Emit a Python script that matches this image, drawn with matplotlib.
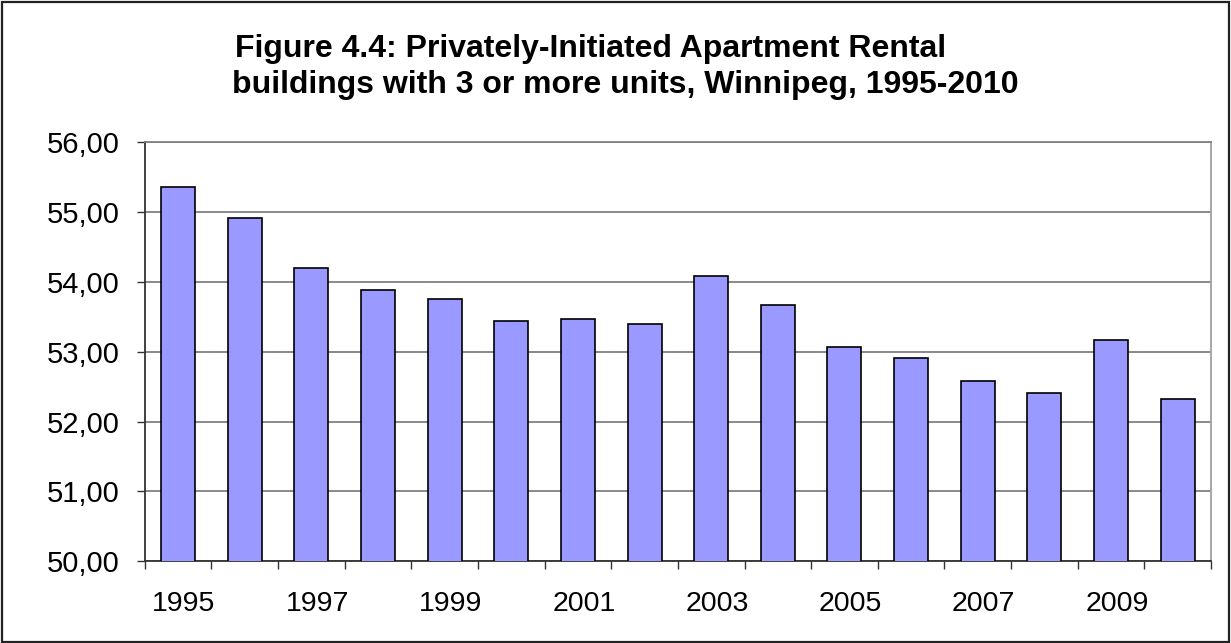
import matplotlib
matplotlib.use("Agg")
import matplotlib.pyplot as plt
import matplotlib.transforms as mtransforms
from matplotlib.patches import Rectangle

# values
years = [1995, 1996, 1997, 1998, 1999, 2000, 2001, 2002,
         2003, 2004, 2005, 2006, 2007, 2008, 2009, 2010]
values = [55.36, 54.91, 54.20, 53.88, 53.75, 53.44, 53.47, 53.39,
          54.08, 53.67, 53.06, 52.91, 52.58, 52.41, 53.17, 52.32]
y_ticks = [50, 51, 52, 53, 54, 55, 56]
title_lines = ["Figure 4.4: Privately-Initiated Apartment Rental",
               "buildings with 3 or more units, Winnipeg, 1995-2010"]

plt.rcParams['font.family'] = ['Liberation Sans', 'DejaVu Sans']

fig = plt.figure(figsize=(12.31, 6.43), dpi=100)
ax = fig.add_axes([0.1175, 0.127, 0.8663, 0.6522])

x = list(range(len(years)))
ax.bar(x, values, width=0.51, color='#9999FF', edgecolor='black',
       linewidth=1.2, zorder=3)

ax.set_ylim(50, 56)
ax.set_xlim(-0.5, len(years) - 0.5)
ax.set_yticks(y_ticks)
ax.set_yticklabels([f"{v:.2f}".replace('.', ',') for v in y_ticks], fontsize=21)
ax.yaxis.grid(True, color='#808080', linewidth=1.3, zorder=0)

# tick marks between categories, labels every other year
ax.set_xticks([i - 0.5 for i in range(len(years) + 1)])
ax.set_xticklabels([])
ax.set_xticks(x[::2], minor=True)
ax.set_xticklabels([str(y) for y in years[::2]], minor=True, fontsize=20.5)
ax.tick_params(axis='x', which='major', direction='out', length=6,
               width=1, color='#333333')
ax.tick_params(axis='x', which='minor', length=0, pad=21)
ax.tick_params(axis='y', direction='out', length=6, width=1,
               color='#333333', pad=12)

# year labels sit a little right of the bar centres in the original
shift = mtransforms.ScaledTranslation(6 / 100, 0, fig.dpi_scale_trans)
for lbl in ax.get_xticklabels(minor=True):
    lbl.set_transform(lbl.get_transform() + shift)

ax.spines['left'].set_color('#333333')
ax.spines['bottom'].set_color('#333333')
ax.spines['top'].set_color('#808080')
ax.spines['right'].set_color('#A0A0A0')
for s in ax.spines.values():
    s.set_linewidth(1.3)

fig.text(235 / 1231, 1 - 57 / 643, title_lines[0], fontsize=23,
         fontweight='bold', ha='left', va='baseline')
fig.text(232 / 1231, 1 - 93 / 643, title_lines[1], fontsize=23,
         fontweight='bold', ha='left', va='baseline')

fig.patches.append(Rectangle((2.5 / 1231, 1.3 / 643), 1226 / 1231, 640 / 643,
                             transform=fig.transFigure, fill=False,
                             edgecolor='#222222', linewidth=1.6))

fig.savefig("out.png", dpi=100)
